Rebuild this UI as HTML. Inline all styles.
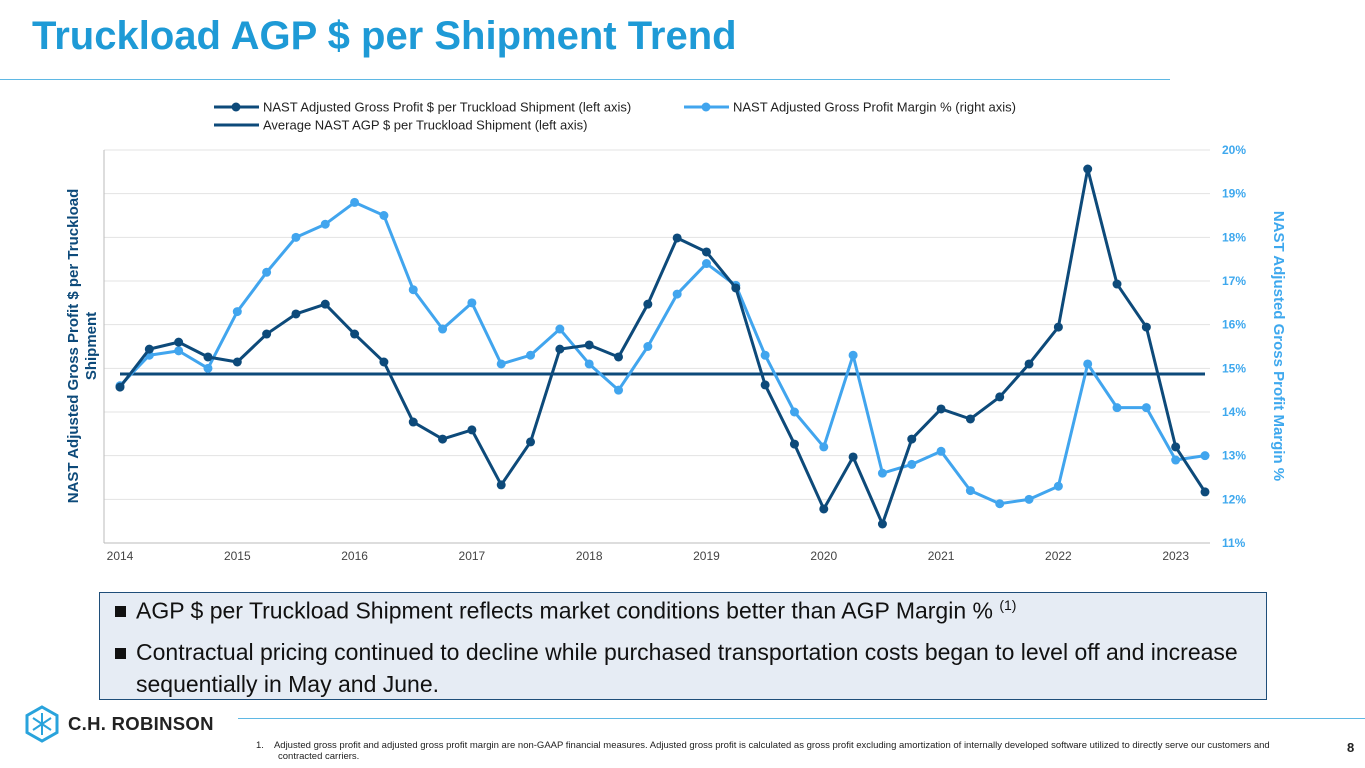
<!DOCTYPE html>
<html><head><meta charset="utf-8">
<style>
body{margin:0;width:1365px;height:768px;overflow:hidden;background:#fff;font-family:"Liberation Sans",sans-serif;position:relative}
.abs{position:absolute}
.bul{position:absolute;left:15px;width:11px;height:11px;background:#111}
</style></head><body>
<div class="abs" style="left:32px;top:14px;font-size:40px;font-weight:bold;color:#1e9ad6">Truckload AGP $ per Shipment Trend</div>
<div class="abs" style="left:0;top:79px;width:1170px;height:1px;background:#5fb8e4"></div>
<svg class="abs" style="left:0;top:0" width="1365" height="590" id="chart"></svg>
<div class="abs" style="left:99px;top:592px;width:1168px;height:108px;background:#e6ecf4;border:1.5px solid #1f4e79;box-sizing:border-box;font-size:23px;color:#111;line-height:32px">
<div class="bul" style="top:13px"></div>
<div class="abs" style="left:36px;top:-4px;white-space:nowrap">AGP $ per Truckload Shipment reflects market conditions better than AGP Margin % <sup style="font-size:14px">(1)</sup></div>
<div class="bul" style="top:55px"></div>
<div class="abs" style="left:36px;top:43px;width:1124px">Contractual pricing continued to decline while purchased transportation costs began to level off and increase sequentially in May and June.</div>
</div>
<svg class="abs" style="left:24px;top:705px" width="36" height="38"><polygon points="18,2 33,10.5 33,27.5 18,36 3,27.5 3,10.5" fill="none" stroke="#29a3dc" stroke-width="3"/><path d="M18 8v22M9 13l18 12M27 13L9 25" stroke="#29a3dc" stroke-width="2"/></svg>
<div class="abs" style="left:68px;top:713px;font-size:18.5px;font-weight:bold;color:#222;letter-spacing:0.3px">C.H. ROBINSON</div>
<div class="abs" style="left:238px;top:718px;width:1127px;height:1px;background:#5fb8e4"></div>
<div class="abs" style="left:256px;top:740px;width:1035px;font-size:9.5px;color:#222;line-height:11px;padding-left:22px;text-indent:-22px">1.&nbsp;&nbsp;&nbsp; Adjusted gross profit and adjusted gross profit margin are non-GAAP financial measures. Adjusted gross profit is calculated as gross profit excluding amortization of internally developed software utilized to directly serve our customers and contracted carriers.</div>
<div class="abs" style="left:1347px;top:740px;font-size:13px;font-weight:bold;color:#222">8</div>
<script>
const years=["2014","2015","2016","2017","2018","2019","2020","2021","2022","2023"];
const agp=[171.4,188.8,192.0,185.2,182.9,195.7,204.9,209.4,195.7,182.9,155.4,147.6,151.8,126.6,146.3,188.8,190.7,185.2,209.4,239.7,233.3,216.8,172.4,145.3,115.6,139.4,108.7,147.6,161.4,156.8,166.9,182.0,198.9,271.3,218.6,198.9,144.0,123.4];
const margin=[14.6,15.3,15.4,15.0,16.3,17.2,18.0,18.3,18.8,18.5,16.8,15.9,16.5,15.1,15.3,15.9,15.1,14.5,15.5,16.7,17.4,16.9,15.3,14.0,13.2,15.3,12.6,12.8,13.1,12.2,11.9,12.0,12.3,15.1,14.1,14.1,12.9,13.0];
const avgAgp=177.4;
const rightTicks=[11,12,13,14,15,16,17,18,19,20];
const leftMin=100,leftMax=280,rMin=11,rMax=20;
const X0=120,X1=1205,Ytop=150,Ybot=543;
const svg=document.getElementById('chart');const NS='http://www.w3.org/2000/svg';
const xq=i=>X0+(X1-X0)*i/(agp.length-1);
const yl=v=>Ybot-(v-leftMin)/(leftMax-leftMin)*(Ybot-Ytop);
const yr=v=>Ybot-(v-rMin)/(rMax-rMin)*(Ybot-Ytop);
function mk(t,a){const e=document.createElementNS(NS,t);for(const k in a)e.setAttribute(k,a[k]);svg.appendChild(e);return e;}
rightTicks.forEach(t=>{const g=mk('line',{x1:104,x2:1210,y1:yr(t),y2:yr(t),stroke:t==11?'#bbb':'#e3e3e3','stroke-width':1});


const l=mk('text',{x:1222,y:yr(t)+4,'font-size':12,'font-weight':'bold',fill:'#3ea8ee'});l.textContent=t+'%';

});
const ax=mk('line',{x1:104,x2:104,y1:Ytop,y2:Ybot,stroke:'#bbb'});


years.forEach((y,i)=>{const t=mk('text',{x:xq(i*4),y:560,'font-size':12,fill:'#444','text-anchor':'middle'});t.textContent=y;

});
const av=mk('line',{x1:X0,x2:X1,y1:yl(avgAgp),y2:yl(avgAgp),stroke:'#0d4a7a','stroke-width':3});


function series(arr,yf,col,name){const p=mk('polyline',{points:arr.map((v,i)=>xq(i)+','+yf(v)).join(' '),fill:'none',stroke:col,'stroke-width':3,'stroke-linejoin':'round'});


arr.forEach((v,i)=>{const c=mk('circle',{cx:xq(i),cy:yf(v),r:4.5,fill:col});

});}
series(margin,yr,'#41a5ee','margin');
series(agp,yl,'#0d4a7a','agp');
function leg(x,y,col,marker,txt,name){const l=mk('line',{x1:x,x2:x+45,y1:y,y2:y,stroke:col,'stroke-width':3});


if(marker){const c=mk('circle',{cx:x+22,cy:y,r:4.5,fill:col});}
const t=mk('text',{x:x+49,y:y+4.5,'font-size':13,fill:'#222'});t.textContent=txt;

}
leg(214,107,'#0d4a7a',true,'NAST Adjusted Gross Profit $ per Truckload Shipment (left axis)','legend-agp');
leg(684,107,'#41a5ee',true,'NAST Adjusted Gross Profit Margin % (right axis)','legend-margin');
leg(214,125,'#0d4a7a',false,'Average NAST AGP $ per Truckload Shipment (left axis)','legend-average');
const lt=mk('text',{transform:'translate(78,346) rotate(-90)','font-size':15,'font-weight':'bold',fill:'#0d4a7a','text-anchor':'middle'});


lt.innerHTML='<tspan x="0" dy="0">NAST Adjusted Gross Profit $ per Truckload</tspan><tspan x="0" dy="18">Shipment</tspan>';
const rt=mk('text',{transform:'translate(1274,346) rotate(90)','font-size':15,'font-weight':'bold',fill:'#3ea8ee','text-anchor':'middle'});


rt.textContent='NAST Adjusted Gross Profit Margin %';
</script>
</body></html>
